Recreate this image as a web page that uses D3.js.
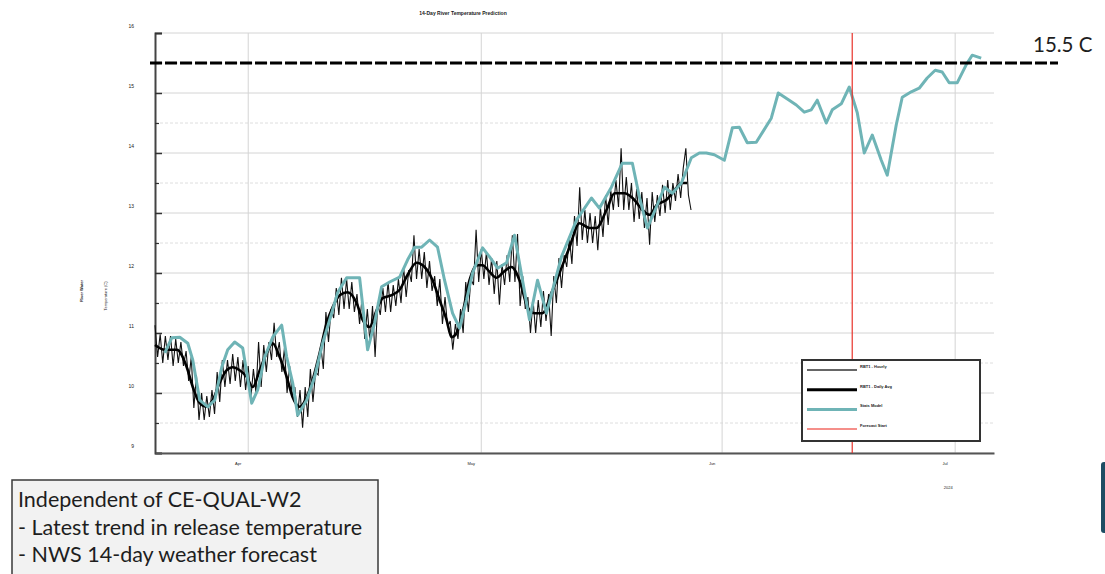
<!DOCTYPE html>
<html>
<head>
<meta charset="utf-8">
<script src="https://cdn.jsdelivr.net/npm/d3@7"></script>
<style>
  body { margin: 0; background: #fff; }
  svg { display: block; }
  .tiny { font-family: "Liberation Sans", Arial, sans-serif; fill: #222; }
  .note { font-family: Lato, "Open Sans", sans-serif; fill: #1e1e1e; }
</style>
</head>
<body>
<svg id="chart" width="1105" height="574"></svg>
<script>
// ---- data ----
var seriesStart = Date.UTC(2024, 2, 20);   // day 0 of every day-offset below
var monthTicks = ["2024-04-01", "2024-05-01", "2024-06-01", "2024-07-01"];
var monthLabels = ["Apr", "May", "Jun", "Jul"];
var yTicks = [9, 10, 11, 12, 13, 14, 15, 16];
var yMinorTicks = [9.5, 10.5, 11.5, 12.5, 13.5, 14.5, 15.5];
var thresholdTemp = 15.5;
var forecastStart = "2024-06-17T18:00:00Z";
var legendLabels = ["RBT1 - Hourly", "RBT1 - Daily Avg", "Stats Model", "Forecast Start"];
var noteLines = ["Independent of CE-QUAL-W2", "- Latest trend in release temperature", "- NWS 14-day weather forecast"];

// hourly gauge, sampled every 8 hours from seriesStart
var hourlyStepHours = 8;
var hourlyTemps = [
  11.13, 10.6, 10.98, 10.5, 10.95, 10.55, 10.95, 10.45, 10.9, 10.5, 10.85, 10.45,
  10.7, 10.2, 10.6, 9.75, 10.3, 9.55, 10.0, 9.55, 9.95, 9.6, 10.05, 9.65,
  10.35, 9.85, 10.55, 10.1, 10.55, 10.15, 10.65, 10.2, 10.6, 10.1, 10.55, 10.05,
  10.45, 9.9, 10.4, 10.0, 10.85, 10.1, 10.8, 10.35, 10.85, 10.55, 11.17, 10.6,
  10.85, 10.35, 10.75, 10.0, 10.45, 9.95, 10.1, 9.6, 10.05, 9.42, 10.1, 9.6,
  10.4, 9.85, 10.35, 10.3, 10.8, 10.4, 11.35, 10.85, 11.4, 11.25, 11.75, 11.3,
  11.92, 11.4, 11.9, 11.4, 11.85, 11.35, 11.65, 11.15, 11.6, 10.9, 11.4, 10.85,
  11.45, 10.6, 11.5, 11.3, 11.75, 11.35, 11.85, 11.35, 11.8, 11.45, 11.9, 11.5,
  12.1, 11.6, 12.05, 11.85, 12.63, 11.9, 12.4, 11.9, 12.35, 11.75, 12.2, 11.7,
  11.95, 11.45, 11.9, 11.15, 11.6, 11.1, 11.2, 10.72, 11.15, 10.9, 11.4, 11.0,
  11.85, 11.35, 11.9, 11.8, 12.72, 11.85, 12.4, 11.9, 12.35, 11.8, 12.25, 11.65,
  12.2, 11.47, 12.15, 11.8, 12.3, 11.85, 12.63, 11.85, 12.65, 11.45, 11.95, 11.4,
  11.6, 11.0, 11.55, 11.0, 11.55, 11.1, 11.7, 11.2, 11.65, 10.95, 11.95, 11.5,
  12.25, 11.75, 12.3, 12.1, 12.6, 12.15, 12.95, 12.45, 13.43, 12.55, 13.05, 12.5,
  13.0, 12.5, 12.95, 12.38, 13.1, 12.6, 13.3, 12.8, 13.38, 13.05, 13.55, 13.1,
  14.08, 13.05, 13.6, 13.05, 13.5, 12.85, 13.4, 12.9, 13.35, 12.75, 13.25, 12.47,
  13.35, 12.85, 13.3, 12.95, 13.47, 13.0, 13.55, 13.05, 13.5, 13.2, 13.65, 13.25,
  13.75, 14.08, 13.3, 13.05
];

// daily average of the gauge (day offset, temp)
var dailyDays = [0, 1.26, 2.8, 4.09, 4.86, 5.76, 6.66, 7.43, 8.33, 9.23,
  10.0, 10.9, 11.8, 12.58, 13.48, 14.38, 15.15, 16.05, 16.95, 17.72,
  18.62, 19.52, 20.3, 21.2, 22.1, 22.87, 23.77, 24.8, 25.95, 26.73,
  27.63, 28.53, 29.3, 30.46, 31.49, 32.52, 33.67, 34.7, 35.73, 36.63,
  37.53, 38.17, 38.82, 39.59, 40.49, 41.39, 42.16, 43.06, 43.96, 44.73,
  45.89, 46.92, 47.95, 48.85, 49.88, 51.04, 52.07, 53.36, 54.64, 55.93,
  56.83, 58.12, 59.15, 60.44, 61.47, 62.76, 63.66, 64.56, 65.84, 66.61,
  67.77, 68.5];
var dailyTemps = [10.8, 10.72, 10.72, 10.43, 10.1, 9.83, 9.77, 9.88, 10.17, 10.38,
  10.43, 10.38, 10.27, 10.1, 10.38, 10.67, 10.83, 10.6, 10.27, 9.93,
  9.77, 9.93, 10.22, 10.67, 11.17, 11.43, 11.63, 11.68, 11.5, 11.22,
  11.1, 11.38, 11.58, 11.63, 11.72, 11.97, 12.17, 12.1, 11.88, 11.55,
  11.22, 10.93, 11.0, 11.33, 11.88, 12.13, 12.13, 12.02, 11.92, 12.0,
  12.1, 11.88, 11.43, 11.33, 11.33, 11.67, 12.0, 12.43, 12.83, 12.75,
  12.75, 13.05, 13.33, 13.33, 13.25, 13.05, 12.97, 13.13, 13.22, 13.33,
  13.5, 13.5];

// statistical model (hindcast + 14-day forecast)
var statsDays = [1.26, 2.16, 3.19, 4.22, 4.86, 5.76, 6.79, 7.69, 8.59, 9.36,
  10.26, 11.29, 12.45, 13.22, 14.12, 15.15, 16.31, 16.95, 17.72, 18.37,
  19.52, 20.55, 21.58, 22.74, 23.5, 24.67, 26.34, 27.37, 28.27, 29.17,
  30.2, 31.49, 32.52, 33.42, 34.32, 35.35, 36.37, 37.27, 38.3, 39.2,
  40.1, 40.88, 42.17, 43.07, 44.1, 45.25, 46.28, 48.21, 49.24, 50.39,
  52.32, 54.25, 56.18, 57.2, 58.75, 60.16, 61.45, 62.35, 63.38, 64.54,
  65.57, 66.6, 67.76, 69.04, 70.07, 70.97, 72.0, 73.29, 74.32, 75.22,
  76.24, 77.4, 79.33, 80.23, 81.64, 82.55, 83.58, 84.48, 85.25, 86.41,
  87.18, 88.34, 89.37, 90.4, 91.3, 92.33, 93.49, 94.26, 95.42, 96.19,
  97.35, 98.37, 99.4, 100.43, 101.33, 102.23, 103.26, 104.42, 105.19, 106.35];
var statsTemps = [10.67, 10.92, 10.93, 10.83, 10.55, 9.88, 9.77, 9.88, 10.43, 10.72,
  10.85, 10.75, 9.83, 10.05, 10.6, 10.93, 11.13, 10.6, 10.17, 9.63,
  9.88, 10.27, 10.83, 11.33, 11.67, 11.92, 11.92, 10.72, 11.17, 11.77,
  11.85, 11.93, 12.22, 12.43, 12.43, 12.55, 12.43, 11.88, 11.33, 11.08,
  11.55, 12.0, 12.42, 12.27, 12.08, 12.17, 12.63, 11.22, 11.88, 11.33,
  12.27, 12.88, 13.25, 13.08, 13.43, 13.83, 13.83, 13.27, 12.75, 13.1,
  13.43, 13.33, 13.5, 13.92, 14.0, 14.0, 13.97, 13.88, 14.42, 14.43,
  14.17, 14.18, 14.58, 15.0, 14.88, 14.8, 14.68, 14.72, 14.88, 14.5,
  14.72, 14.82, 15.1, 14.67, 14.0, 14.3, 13.88, 13.63, 14.47, 14.93,
  15.02, 15.08, 15.25, 15.38, 15.35, 15.17, 15.17, 15.47, 15.63, 15.58];

// ---- helpers ----
function dayToDate(d) { return new Date(seriesStart + d * 864e5); }
function zipSeries(days, temps) {
  return days.map(function(d, i) { return { date: dayToDate(d), temp: temps[i] }; });
}

var hourly = hourlyTemps.map(function(t, i) {
  return { date: dayToDate(i * hourlyStepHours / 24), temp: t };
});
var daily = zipSeries(dailyDays, dailyTemps);
var stats = zipSeries(statsDays, statsTemps);

var svg = d3.select("#chart");
// (window.top is read-only, so plot edges get their own names)
var plotLeft = 155, plotRight = 994, plotTop = 33, plotBottom = 453;

var x = d3.scaleUtc()
    .domain([new Date(seriesStart), dayToDate(108)])
    .range([plotLeft, plotRight]);
var y = d3.scaleLinear()
    .domain([9, 16])
    .range([plotBottom, plotTop]);

// title
svg.append("text").attr("class", "tiny")
    .attr("x", 463).attr("y", 15)
    .attr("text-anchor", "middle")
    .style("font-size", "5px").style("font-weight", "bold")
    .text("14-Day River Temperature Prediction");

// grid
var grid = svg.append("g");
grid.selectAll(".hmajor").data(yTicks).enter().append("line")
    .attr("x1", plotLeft).attr("x2", plotRight)
    .attr("y1", function(d) { return y(d); }).attr("y2", function(d) { return y(d); })
    .attr("stroke", "#d4d4d4").attr("stroke-width", 1);
grid.selectAll(".hminor").data(yMinorTicks).enter().append("line")
    .attr("x1", plotLeft).attr("x2", plotRight)
    .attr("y1", function(d) { return y(d); }).attr("y2", function(d) { return y(d); })
    .attr("stroke", "#dedede").attr("stroke-width", 1)
    .attr("stroke-dasharray", "3,2");
grid.selectAll(".vmajor").data(monthTicks).enter().append("line")
    .attr("x1", function(d) { return x(new Date(d)); }).attr("x2", function(d) { return x(new Date(d)); })
    .attr("y1", plotTop).attr("y2", plotBottom)
    .attr("stroke", "#d4d4d4").attr("stroke-width", 1);

// axes: ticks point into the plot
svg.append("g")
    .attr("transform", "translate(" + plotLeft + ",0)")
    .call(d3.axisLeft(y).tickValues(yTicks).tickSize(-7).tickPadding(21).tickFormat(d3.format("d")))
    .call(function(g) {
      g.select(".domain").attr("stroke", "#444").attr("stroke-width", 2);
      g.selectAll(".tick line").attr("stroke", "#333").attr("stroke-width", 1.5);
      g.selectAll(".tick text").attr("class", "tiny").attr("y", -7)
        .style("font-size", "5px").attr("fill", "#223");
    });
svg.append("g")
    .attr("transform", "translate(" + plotLeft + ",0)")
    .call(d3.axisLeft(y).tickValues(yMinorTicks).tickSize(-4).tickFormat(""))
    .call(function(g) {
      g.select(".domain").remove();
      g.selectAll(".tick line").attr("stroke", "#333").attr("stroke-width", 1.2);
    });

svg.append("g")
    .attr("transform", "translate(0," + plotBottom + ")")
    .call(d3.axisBottom(x).tickValues(monthTicks.map(function(d) { return new Date(d); }))
      .tickSize(0).tickFormat(""))
    .call(function(g) {
      g.select(".domain").attr("stroke", "#555").attr("stroke-width", 2);
    });

svg.selectAll(".monthLabel").data(monthTicks).enter().append("text")
    .attr("class", "tiny")
    .attr("x", function(d) { return x(new Date(d)) - 10; })
    .attr("y", 465)
    .attr("text-anchor", "middle")
    .style("font-size", "4px")
    .text(function(d, i) { return monthLabels[i]; });
svg.append("text").attr("class", "tiny")
    .attr("x", x(new Date(monthTicks[3])) - 7).attr("y", 489)
    .attr("text-anchor", "middle").style("font-size", "4px")
    .text("2024");

// y axis title, two rotated lines
svg.append("text").attr("class", "tiny")
    .attr("transform", "translate(83,291) rotate(-90)")
    .attr("text-anchor", "middle").style("font-size", "4px").style("font-weight", "bold")
    .text("River Water");
svg.append("text").attr("class", "tiny")
    .attr("transform", "translate(107,296) rotate(-90)")
    .attr("text-anchor", "middle").style("font-size", "4px")
    .text("Temperature (C)");

// series
var line = d3.line()
    .x(function(d) { return x(d.date); })
    .y(function(d) { return y(d.temp); });

svg.append("path").datum(hourly)
    .attr("d", line)
    .attr("fill", "none").attr("stroke", "#111").attr("stroke-width", 1.1);

svg.append("path").datum(daily)
    .attr("d", line.curve(d3.curveMonotoneX))
    .attr("fill", "none").attr("stroke", "#000").attr("stroke-width", 2.6);

svg.append("path").datum(stats)
    .attr("d", line.curve(d3.curveLinear))
    .attr("fill", "none").attr("stroke", "#6fb4b6").attr("stroke-width", 3)
    .attr("stroke-linejoin", "round");

// forecast start
var fx = x(new Date(forecastStart));
svg.append("line")
    .attr("x1", fx).attr("x2", fx).attr("y1", plotTop).attr("y2", plotBottom)
    .attr("stroke", "#e8332b").attr("stroke-width", 1.2);

// 15.5 C threshold
svg.append("line")
    .attr("x1", 150).attr("x2", 1058)
    .attr("y1", y(thresholdTemp)).attr("y2", y(thresholdTemp))
    .attr("stroke", "#000").attr("stroke-width", 3)
    .attr("stroke-dasharray", "12,3");
svg.append("text").attr("class", "note")
    .attr("x", 1033).attr("y", 52)
    .style("font-size", "20.5px")
    .text(thresholdTemp + " C");

// legend
var legend = svg.append("g").attr("transform", "translate(802,360)");
legend.append("rect")
    .attr("width", 178).attr("height", 81)
    .attr("fill", "#fff").attr("stroke", "#333").attr("stroke-width", 2);
var legendStyles = [
  { color: "#333", width: 1.5 },
  { color: "#000", width: 3 },
  { color: "#6fb4b6", width: 3 },
  { color: "#f26a63", width: 1.5 }
];
legendLabels.forEach(function(label, i) {
  var ly = 10 + i * 19.7;
  legend.append("line")
    .attr("x1", 5).attr("x2", 55).attr("y1", ly).attr("y2", ly)
    .attr("stroke", legendStyles[i].color).attr("stroke-width", legendStyles[i].width);
  legend.append("text").attr("class", "tiny")
    .attr("x", 58).attr("y", ly - 2)
    .style("font-size", "4px").style("font-weight", "bold")
    .text(label);
});

// note box, bottom left
svg.append("rect")
    .attr("x", 12).attr("y", 480).attr("width", 366).attr("height", 110)
    .attr("fill", "#f2f2f2").attr("stroke", "#3a3a3a").attr("stroke-width", 1.5);
svg.selectAll(".noteLine").data(noteLines).enter().append("text")
    .attr("class", "note")
    .attr("x", 18)
    .attr("y", function(d, i) { return 507 + i * 27.5; })
    .style("font-size", "21.5px")
    .text(function(d) { return d; });

// cut-off shape at right edge
svg.append("rect")
    .attr("x", 1101).attr("y", 462).attr("width", 12).attr("height", 71)
    .attr("rx", 3).attr("fill", "#1d4d63");
</script>
</body>
</html>
